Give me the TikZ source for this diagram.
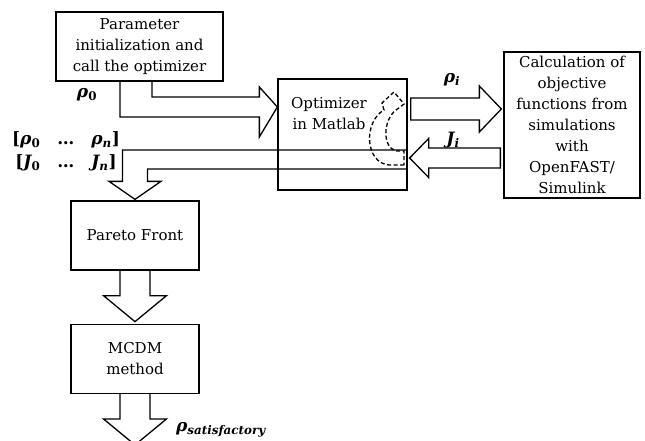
\documentclass[tikz,border=0pt]{standalone}
\usepackage{fontspec}
\setmainfont{DejaVu Serif}
\usetikzlibrary{calc,positioning}

\begin{document}
\begin{tikzpicture}[x=1pt, y=1pt,
		box/.style={draw, line width=1.3pt, align=center, inner sep=2pt,
			font=\fontsize{15}{21}\selectfont},
		txt/.style={align=center, inner sep=0pt, font=\fontsize{15}{21}\selectfont},
		lbl/.style={inner sep=0pt, font=\fontsize{17}{21}\selectfont\bfseries\itshape},
		blk/.style={line width=1.3pt, line join=miter},
		blockdown/.style={blk, to path={let \p1=(\tikztostart), \p2=(\tikztotarget) in
			(\x1-15pt,\y1) -- (\x1-15pt,\y2+26pt) -- (\x1-31.5pt,\y2+26pt) -- (\x1,\y2)
			-- (\x1+31.5pt,\y2+26pt) -- (\x1+15pt,\y2+26pt) -- (\x1+15pt,\y1)}},
		blockright/.style={blk, to path={let \p1=(\tikztostart), \p2=(\tikztotarget) in
			(\x1,\y1+11pt) -- (\x2-22pt,\y1+11pt) -- (\x2-22pt,\y1+23pt) -- (\x2,\y1)
			-- (\x2-22pt,\y1-23pt) -- (\x2-22pt,\y1-11pt) -- (\x1,\y1-11pt) -- cycle}},
		blockleft/.style={blk, to path={let \p1=(\tikztostart), \p2=(\tikztotarget) in
			(\x1,\y1+10pt) -- (\x2+19pt,\y1+10pt) -- (\x2+19pt,\y1+19.5pt) -- (\x2,\y1)
			-- (\x2+19pt,\y1-19.5pt) -- (\x2+19pt,\y1-10pt) -- (\x1,\y1-10pt) -- cycle}}
		]
		\useasboundingbox (0,0) rectangle (645,440);

		% boxes
		\node[box, minimum width=167pt, minimum height=69pt] (init) at (139.5,393.5)
			{Parameter\\initialization and\\call the optimizer};
		\node[box, minimum width=129pt, minimum height=111pt] (opt) at (342.5,305.5) {};
		\node[txt] (opttxt) at (329,326) {Optimizer\\in Matlab};
		\node[box, minimum width=136pt, minimum height=146pt] (calc) at (572,315)
			{Calculation of\\objective\\functions from\\simulations\\with\\OpenFAST/\\Simulink};
		\node[box, minimum width=128pt, minimum height=69pt] (pareto) at (135,204.5) {Pareto Front};
		\node[box, minimum width=128pt, minimum height=69pt, below=53pt of pareto] (mcdm) {MCDM\\method};
		\coordinate (out) at ($(mcdm.south)+(0,-51pt)$);

		% block arrows
		\draw[blk] let \p1=(init.south), \p2=(opt.west) in
			(\x1-19.5pt,\y1) -- (\x1-19.5pt,\y2+17.5pt) -- (\x2-18pt,\y2+17.5pt)
			-- (\x2-18pt,\y2-2.5pt) -- (\x2,\y2+27.5pt) -- (\x2-18pt,\y2+47.5pt)
			-- (\x2-18pt,\y2+37.5pt) -- (\x1+12.5pt,\y2+37.5pt) -- (\x1+12.5pt,\y1);
		\draw[blockright] ($(opt.east)+(3pt,25.5pt)$) to ($(calc.west)+(-2pt,0)$);
		\draw[blockleft] ($(calc.west)+(-3pt,-33pt)$) to ($(opt.east)+(2pt,0)$);
		\draw[blk] let \p1=(opt.east), \p2=(pareto.north) in
			(\x1,\y1-15.5pt) -- (\x2-12.5pt,\y1-15.5pt) -- (\x2-12.5pt,\y2+19pt)
			-- (\x2-26pt,\y2+19pt) -- (\x2,\y2+1pt) -- (\x2+26pt,\y2+19pt)
			-- (\x2+12.5pt,\y2+19pt) -- (\x2+12.5pt,\y1-34.5pt) -- (\x1,\y1-34.5pt);
		\draw[blockdown] (pareto.south) to ($(mcdm.north)+(0,2pt)$);
		\draw[blockdown] (mcdm.south) to (out);

		% iteration loop
		\draw[line width=1.3pt, dash pattern=on 4pt off 2.5pt]
			(404,275) -- (389,275) .. controls (365,277) and (363,318) .. (384,330)
			-- (382,337) -- (394,348) -- (404,336) -- (396,330)
			.. controls (383,320) and (382,293) .. (396,289) -- (404,289) -- cycle;

		% labels
		\node[lbl] (r0) at (87,345) {ρ\textsubscript{\upshape 0}};
		\node[lbl] (rhovec) at (66,300) {{\upshape [}ρ\textsubscript{\upshape 0}\quad{\upshape …}\quad ρ\textsubscript{n}{\upshape ]}};
		\node[lbl] (jvec) at (66,277) {{\upshape [}J\textsubscript{\upshape 0}\quad{\upshape …}\quad J\textsubscript{n}{\upshape ]}};
		\node[lbl] (rhoi) at (452,360) {ρ\textsubscript{i}};
		\node[lbl] (ji) at (453,300) {J\textsubscript{i}};
		\node[lbl] (rhosat) at (221,10) {ρ\textsubscript{satisfactory}};
	\end{tikzpicture}
\end{document}
